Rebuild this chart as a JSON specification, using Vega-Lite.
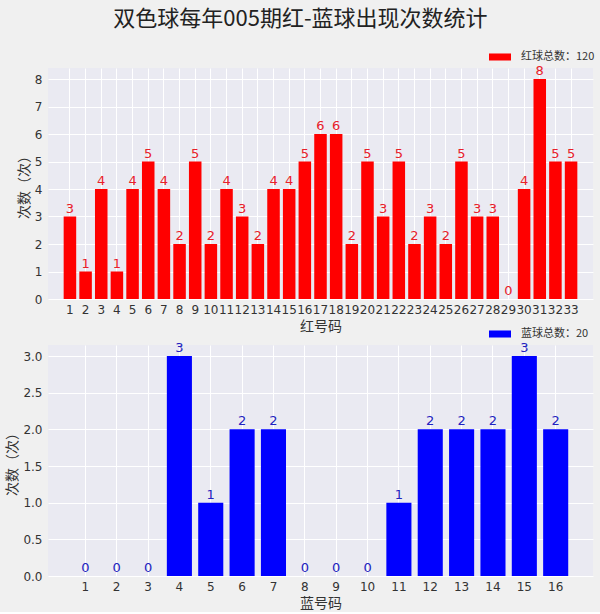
{
  "$schema": "https://vega.github.io/schema/vega-lite/v6.json",
  "background": "#f0f0f0",
  "padding": {"top": 8, "left": 5, "right": 5, "bottom": 2},
  "title": {"text": "双色球每年005期红-蓝球出现次数统计", "fontSize": 22, "font": "Noto Sans CJK SC", "fontWeight": "normal", "color": "#222222", "anchor": "middle", "offset": 15},
  "config": {
    "font": "Noto Sans CJK SC",
    "view": {"fill": "#eaeaf2", "stroke": null},
    "axis": {"domain": false, "ticks": false, "gridColor": "#ffffff", "gridWidth": 1, "labelColor": "#333333", "labelFontSize": 12, "titleFontSize": 14, "titleFontWeight": "normal", "titleColor": "#333333", "labelFont": "DejaVu Sans"},
    "legend": {"labelFontSize": 11, "labelColor": "#333333", "padding": 0}
  },
  "datasets": {
    "red": [
      {"num": "1", "count": 3, "series": "红球总数：120"},
      {"num": "2", "count": 1, "series": "红球总数：120"},
      {"num": "3", "count": 4, "series": "红球总数：120"},
      {"num": "4", "count": 1, "series": "红球总数：120"},
      {"num": "5", "count": 4, "series": "红球总数：120"},
      {"num": "6", "count": 5, "series": "红球总数：120"},
      {"num": "7", "count": 4, "series": "红球总数：120"},
      {"num": "8", "count": 2, "series": "红球总数：120"},
      {"num": "9", "count": 5, "series": "红球总数：120"},
      {"num": "10", "count": 2, "series": "红球总数：120"},
      {"num": "11", "count": 4, "series": "红球总数：120"},
      {"num": "12", "count": 3, "series": "红球总数：120"},
      {"num": "13", "count": 2, "series": "红球总数：120"},
      {"num": "14", "count": 4, "series": "红球总数：120"},
      {"num": "15", "count": 4, "series": "红球总数：120"},
      {"num": "16", "count": 5, "series": "红球总数：120"},
      {"num": "17", "count": 6, "series": "红球总数：120"},
      {"num": "18", "count": 6, "series": "红球总数：120"},
      {"num": "19", "count": 2, "series": "红球总数：120"},
      {"num": "20", "count": 5, "series": "红球总数：120"},
      {"num": "21", "count": 3, "series": "红球总数：120"},
      {"num": "22", "count": 5, "series": "红球总数：120"},
      {"num": "23", "count": 2, "series": "红球总数：120"},
      {"num": "24", "count": 3, "series": "红球总数：120"},
      {"num": "25", "count": 2, "series": "红球总数：120"},
      {"num": "26", "count": 5, "series": "红球总数：120"},
      {"num": "27", "count": 3, "series": "红球总数：120"},
      {"num": "28", "count": 3, "series": "红球总数：120"},
      {"num": "29", "count": 0, "series": "红球总数：120"},
      {"num": "30", "count": 4, "series": "红球总数：120"},
      {"num": "31", "count": 8, "series": "红球总数：120"},
      {"num": "32", "count": 5, "series": "红球总数：120"},
      {"num": "33", "count": 5, "series": "红球总数：120"}
    ],
    "blue": [
      {"num": "1", "count": 0, "series": "蓝球总数：20"},
      {"num": "2", "count": 0, "series": "蓝球总数：20"},
      {"num": "3", "count": 0, "series": "蓝球总数：20"},
      {"num": "4", "count": 3, "series": "蓝球总数：20"},
      {"num": "5", "count": 1, "series": "蓝球总数：20"},
      {"num": "6", "count": 2, "series": "蓝球总数：20"},
      {"num": "7", "count": 2, "series": "蓝球总数：20"},
      {"num": "8", "count": 0, "series": "蓝球总数：20"},
      {"num": "9", "count": 0, "series": "蓝球总数：20"},
      {"num": "10", "count": 0, "series": "蓝球总数：20"},
      {"num": "11", "count": 1, "series": "蓝球总数：20"},
      {"num": "12", "count": 2, "series": "蓝球总数：20"},
      {"num": "13", "count": 2, "series": "蓝球总数：20"},
      {"num": "14", "count": 2, "series": "蓝球总数：20"},
      {"num": "15", "count": 3, "series": "蓝球总数：20"},
      {"num": "16", "count": 2, "series": "蓝球总数：20"}
    ]
  },
  "vconcat": [
    {
      "width": 545,
      "height": 231,
      "data": {"name": "red"},
      "encoding": {
        "x": {"field": "num", "type": "ordinal", "sort": null,
              "scale": {"paddingInner": 0.2, "paddingOuter": 1.64},
              "axis": {"title": "红号码", "labelAngle": 0, "grid": true, "tickBand": "center", "labelPadding": 5, "titlePadding": 4}},
        "y": {"field": "count", "type": "quantitative",
              "scale": {"domain": [0, 8.4], "nice": false},
              "axis": {"title": "次数（次）", "values": [0, 1, 2, 3, 4, 5, 6, 7, 8], "titlePadding": 3, "labelPadding": 6}}
      },
      "layer": [
        {"mark": {"type": "bar"},
         "encoding": {"color": {"field": "series", "type": "nominal",
                                "scale": {"range": ["#ff0000"]},
                                "legend": {"title": null, "orient": "none", "legendX": 441, "legendY": -22, "symbolType": "M-1,-0.32H1V0.32H-1Z", "symbolSize": 484, "symbolStrokeWidth": 0, "labelOffset": 10}}}},
        {"mark": {"type": "text", "baseline": "bottom", "dy": -1, "fontSize": 13, "color": "#e8202a", "font": "DejaVu Sans"},
         "encoding": {"text": {"field": "count", "type": "quantitative"}}}
      ]
    },
    {
      "width": 545,
      "height": 231,
      "data": {"name": "blue"},
      "encoding": {
        "x": {"field": "num", "type": "ordinal", "sort": null,
              "scale": {"paddingInner": 0.2, "paddingOuter": 0.79},
              "axis": {"title": "蓝号码", "labelAngle": 0, "grid": true, "tickBand": "center", "labelPadding": 5, "titlePadding": 4}},
        "y": {"field": "count", "type": "quantitative",
              "scale": {"domain": [0, 3.15], "nice": false},
              "axis": {"title": "次数（次）", "values": [0, 0.5, 1, 1.5, 2, 2.5, 3], "format": ".1f", "titlePadding": 3, "labelPadding": 6}}
      },
      "layer": [
        {"mark": {"type": "bar"},
         "encoding": {"color": {"field": "series", "type": "nominal",
                                "scale": {"range": ["#0000ff"]},
                                "legend": {"title": null, "orient": "none", "legendX": 441, "legendY": -22, "symbolType": "M-1,-0.32H1V0.32H-1Z", "symbolSize": 484, "symbolStrokeWidth": 0, "labelOffset": 10}}}},
        {"mark": {"type": "text", "baseline": "bottom", "dy": -1, "fontSize": 13, "color": "#2222c0", "font": "DejaVu Sans"},
         "encoding": {"text": {"field": "count", "type": "quantitative"}}}
      ]
    }
  ],
  "resolve": {"scale": {"color": "independent", "x": "independent", "y": "independent"}, "legend": {"color": "independent"}},
  "spacing": 46,
  "bounds": "flush"
}
